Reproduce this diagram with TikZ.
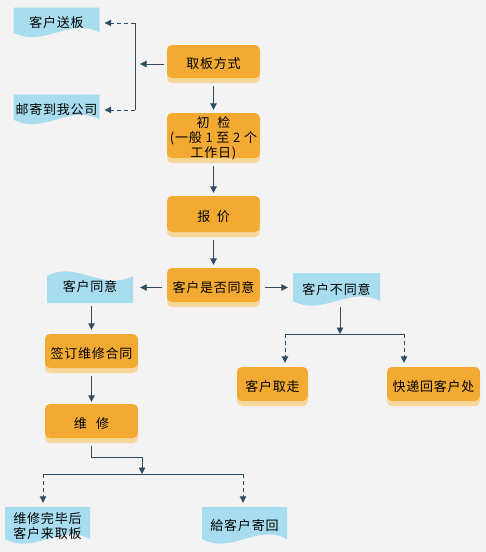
\documentclass[tikz,border=0pt]{standalone}
\usepackage{fontspec}
\setmainfont{Noto Sans CJK SC}[LetterSpace=6]
\usetikzlibrary{arrows.meta}
\definecolor{bggray}{HTML}{F3F3F3}
\definecolor{boxorange}{HTML}{F3AA33}
\definecolor{boxpeach}{HTML}{F8D79C}
\definecolor{docblue}{HTML}{A7DDEF}
\definecolor{linkblue}{HTML}{2B4C64}

\begin{document}
\begin{tikzpicture}[
    x=1pt, y=-1pt,
    font=\fontsize{13}{15}\selectfont,
    obox/.style={fill=boxpeach, rounded corners=5pt, align=center,
                 minimum width=93pt, minimum height=39pt, inner sep=2pt,
                 path picture={\fill[boxorange]
                   (path picture bounding box.north west) rectangle
                   ([yshift=5pt]path picture bounding box.south east);}},
    doc/.style={align=center, minimum width=86pt, minimum height=31pt, inner sep=2pt,
                path picture={\fill[docblue]
                  (path picture bounding box.north west) --
                  (path picture bounding box.north east) --
                  ([yshift=6pt]path picture bounding box.south east)
                  .. controls +(-29pt,16pt) and +(29pt,-16pt) ..
                  ([yshift=6pt]path picture bounding box.south west) -- cycle;}},
    docup/.style={align=center, minimum width=86pt, minimum height=33pt, inner sep=2pt,
                path picture={\fill[docblue]
                  (path picture bounding box.south west) --
                  ([yshift=-6pt]path picture bounding box.north west)
                  .. controls +(29pt,16pt) and +(-29pt,-16pt) ..
                  ([yshift=-6pt]path picture bounding box.north east) --
                  (path picture bounding box.south east) -- cycle;}},
    link/.style={draw=linkblue, line width=0.9pt},
    dlink/.style={link, dash pattern=on 4pt off 3pt},
    >={Triangle[length=6.5pt,width=6.5pt]}
  ]
  \fill[bggray] (0,0) rectangle (486,552);
  \useasboundingbox (0,0) rectangle (486,552);

  % --- how the board comes in --------------------------------------------
  \node[doc] (khsb) at (56.5,23)  {客户送板};
  \node[doc] (yjgs) at (56.5,110) {邮寄到我公司};
  \node[obox, minimum height=38pt] (qbfs) at (213.5,64) {取板方式};

  % --- main column ---------------------------------------------------------
  \node[obox, minimum height=50pt] (cjian) at (213.5,138)
       {初\hspace{0.6em}检\\(一般 1 至 2 个\\工作日)};
  \node[obox, minimum height=41pt] (bjia) at (213.5,216.5) {报\hspace{0.5em}价};
  \node[obox] (sfty) at (213.5,287.5) {客户是否同意};

  % --- customer agrees -----------------------------------------------------
  \node[docup] (khty) at (90,286.5) {客户同意};
  \node[obox] (qdht) at (91.5,353.5) {签订维修合同};
  \node[obox] (wxiu) at (91.5,423.5) {维\hspace{0.7em}修};
  \node[doc, minimum width=85pt, minimum height=38pt] (wxwb) at (47.5,526)
       {维修完毕后\\客户来取板};
  \node[doc, minimum width=85pt, minimum height=38pt] (gkjh) at (244.5,526)
       {給客户寄回};

  % --- customer refuses ----------------------------------------------------
  \node[doc, minimum width=87pt, minimum height=34pt] (kbty) at (336.5,290) {客户不同意};
  \node[obox, minimum width=71pt] (khqz) at (272.5,386.5) {客户取走};
  \node[obox] (kdhk) at (433.5,386.5) {快递回客户处};

  % --- pickup choice connectors -------------------------------------------
  \coordinate (pk) at (135,64);
  \draw[link,->,shorten <=3pt,shorten >=5pt] (qbfs.west) -- (pk);
  \draw[link] (khsb.east -| pk) -- (yjgs.east -| pk);
  \draw[dlink,->,shorten >=5pt] (khsb.east -| pk) -- (khsb.east);
  \draw[dlink,->,shorten >=5pt] (yjgs.east -| pk) -- (yjgs.east);

  % --- main column connectors ---------------------------------------------
  \draw[link,->,shorten <=3pt,shorten >=3pt] (qbfs.south) -- (cjian.north);
  \draw[link,->,shorten <=3pt,shorten >=3pt] (cjian.south) -- (bjia.north);
  \draw[link,->,shorten <=3pt,shorten >=3pt] (bjia.south) -- (sfty.north);
  \draw[link,->,shorten <=5pt,shorten >=7pt] (sfty.west) -- (sfty.west -| khty.east);
  \draw[link,->,shorten <=5pt,shorten >=5pt] (sfty.east) -- (sfty.east -| kbty.west);

  % --- agree branch ---------------------------------------------------------
  \draw[link,->,shorten <=3pt,shorten >=4pt] (khty.south -| qdht) -- (qdht.north);
  \draw[link,->,shorten <=3pt,shorten >=2pt] (qdht.south) -- (wxiu.north);
  \coordinate (mj) at (142,474);
  \coordinate (ml) at (43,474);
  \coordinate (mr) at (243,474);
  \draw[link,->,shorten <=3pt] (wxiu.south) -- ++(0,14) -| (mj);
  \draw[link] (ml) -- (mr);
  \draw[dlink,->,shorten >=4pt] (ml) -- (ml |- wxwb.north);
  \draw[dlink,->,shorten >=4pt] (mr) -- (mr |- gkjh.north);

  % --- refuse branch --------------------------------------------------------
  \coordinate (nj) at (340,334);
  \coordinate (nl) at (285,334);
  \coordinate (nr) at (404,334);
  \draw[link,->] (kbty.south -| nj) -- (nj);
  \draw[link] (nl) -- (nr);
  \draw[dlink,->,shorten >=4pt] (nl) -- (nl |- khqz.north);
  \draw[dlink,->,shorten >=4pt] (nr) -- (nr |- kdhk.north);
\end{tikzpicture}
\end{document}
